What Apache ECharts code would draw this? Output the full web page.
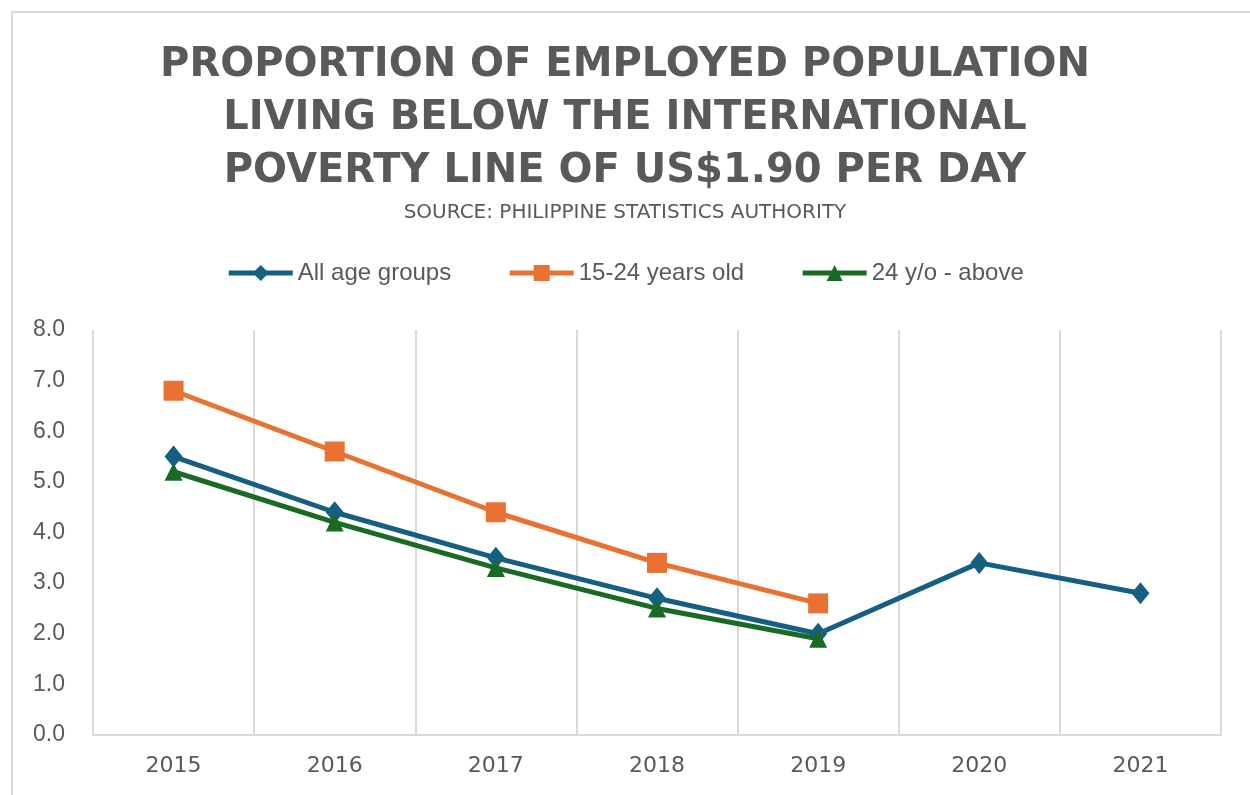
<!DOCTYPE html>
<html>
<head>
<meta charset="utf-8">
<script src="https://cdn.jsdelivr.net/npm/echarts@6/dist/echarts.min.js"></script>
<style>
  html, body { margin: 0; padding: 0; background: #fff; }
  #main { width: 1250px; height: 795px; }
</style>
</head>
<body>
<div id="main"></div>
<script>
var years = ['2015', '2016', '2017', '2018', '2019', '2020', '2021']
var allAges = [5.5, 4.4, 3.5, 2.7, 2.0, 3.4, 2.8]
var youth = [6.8, 5.6, 4.4, 3.4, 2.6, null, null]
var above24 = [5.2, 4.2, 3.3, 2.5, 1.9, null, null]
var seriesNames = ['All age groups', '15-24 years old', '24 y/o - above']

var grey = '#595959'
var gridGrey = '#d9d9d9'

var chart = echarts.init(document.getElementById('main'))

function lineSeries(name, data, color, symbol, size) {
  return {
    name: name,
    type: 'line',
    data: data,
    symbol: symbol,
    symbolSize: size,
    showSymbol: true,
    lineStyle: { color: color, width: 5 },
    itemStyle: { color: color },
    emphasis: { disabled: true }
  }
}

var option = {
  backgroundColor: '#fff',
  animation: false,
  graphic: [{
    type: 'rect',
    shape: { x: 12, y: 12, width: 1250, height: 800 },
    style: { fill: 'none', stroke: gridGrey, lineWidth: 2 },
    silent: true
  }],
  title: [{
    text: 'PROPORTION OF EMPLOYED POPULATION\nLIVING BELOW THE INTERNATIONAL\nPOVERTY LINE OF US$1.90 PER DAY',
    left: 'center',
    top: 34,
    textStyle: {
      fontFamily: 'DejaVu Sans',
      fontWeight: 'bold',
      fontSize: 40,
      lineHeight: 53,
      color: grey
    }
  }, {
    text: 'SOURCE: PHILIPPINE STATISTICS AUTHORITY',
    left: 'center',
    top: 198,
    textStyle: {
      fontFamily: 'DejaVu Sans',
      fontWeight: 'normal',
      fontSize: 20,
      color: grey
    }
  }],
  legend: {
    top: 256,
    left: 'center',
    itemWidth: 64,
    itemHeight: 20,
    itemGap: 56,
    lineStyle: { width: 5 },
    textStyle: { fontFamily: 'Liberation Sans', fontSize: 24, color: grey },
    data: seriesNames
  },
  grid: {
    left: 93,
    right: 29,
    top: 330,
    bottom: 60
  },
  xAxis: {
    type: 'category',
    data: years,
    boundaryGap: true,
    axisLine: { lineStyle: { color: gridGrey, width: 2 } },
    axisTick: { show: false },
    axisLabel: { fontFamily: 'DejaVu Sans', fontSize: 22, color: grey, margin: 20 },
    splitLine: { show: true, lineStyle: { color: gridGrey, width: 2 } }
  },
  yAxis: {
    type: 'value',
    min: 0,
    max: 8,
    interval: 1,
    axisLine: { show: false },
    axisTick: { show: false },
    splitLine: { show: false },
    axisLabel: {
      fontFamily: 'Liberation Sans',
      fontSize: 23,
      color: grey,
      margin: 28,
      formatter: function (v) { return v.toFixed(1) }
    }
  },
  series: [
    lineSeries(seriesNames[0], allAges, '#156082', 'diamond', [18, 22]),
    lineSeries(seriesNames[1], youth, '#e97132', 'rect', 20),
    lineSeries(seriesNames[2], above24, '#196b24', 'triangle', 18)
  ]
}

chart.setOption(option)
</script>
</body>
</html>
